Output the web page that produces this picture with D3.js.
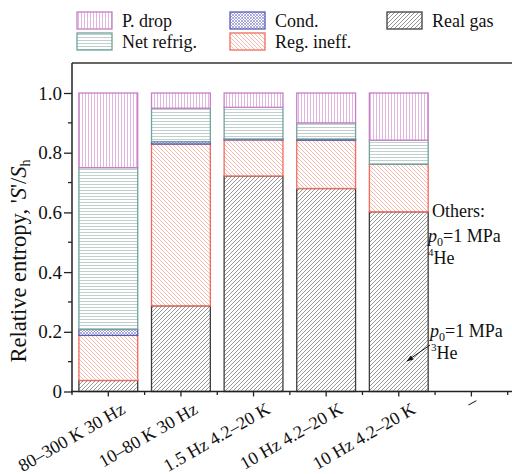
<!DOCTYPE html>
<html>
<head>
<meta charset="utf-8">
<script src="https://cdn.jsdelivr.net/npm/d3@7"></script>
</head>
<body style="margin:0">
<svg id="chart" width="512" height="474"></svg>
<script>
// Categories (operating cases) and stacked entropy shares, bottom to top
const categories = ["80\u2013300 K 30 Hz", "10\u201380 K 30 Hz", "1.5 Hz 4.2\u201320 K", "10 Hz 4.2\u201320 K", "10 Hz 4.2\u201320 K", "\u2013"];
const realGas   = [0.037, 0.287, 0.722, 0.680, 0.602];
const regIneff  = [0.151, 0.542, 0.121, 0.162, 0.159];
const cond      = [0.020, 0.008, 0.003, 0.004, 0.000];
const netRefrig = [0.542, 0.112, 0.106, 0.054, 0.081];
const pDrop     = [0.250, 0.051, 0.048, 0.100, 0.158];
const yTicks = [0, 0.2, 0.4, 0.6, 0.8, 1.0];
const yTickLabels = ["0", "0.2", "0.4", "0.6", "0.8", "1.0"];

const seriesValues = [realGas, regIneff, cond, netRefrig, pDrop];
const keys = ["realGas", "regIneff", "cond", "netRefrig", "pDrop"];

// Fill patterns and outline colours for each loss term
const styles = {
  realGas:   { stroke: "#3d3d3d", pattern: "pat-real" },
  regIneff:  { stroke: "#f26a5a", pattern: "pat-reg" },
  cond:      { stroke: "#5a5ab4", pattern: "pat-cond" },
  netRefrig: { stroke: "#6fa39c", pattern: "pat-net" },
  pDrop:     { stroke: "#c77fc7", pattern: "pat-pdrop" }
};

const FONT = "'Liberation Serif'";
const svg = d3.select("#chart");
const margin = { left: 72, top: 63, bottom: 391.5 };
const plotRight = 507.7;

const defs = svg.append("defs");
function linePattern(id, color, size, path, width) {
  const p = defs.append("pattern").attr("id", id)
    .attr("patternUnits", "userSpaceOnUse")
    .attr("width", size).attr("height", size);
  p.append("rect").attr("width", size).attr("height", size).attr("fill", "#fff");
  p.append("path").attr("d", path).attr("stroke", color)
    .attr("stroke-width", width).attr("fill", "none");
}
linePattern("pat-pdrop", "#dcaedc", 3, "M1.5,0V3", 0.9);
linePattern("pat-net", "#b8cbc7", 3, "M0,1.5H3", 0.9);
linePattern("pat-real", "#8c8c8c", 4, "M0,4L4,0M-1,1L1,-1M3,5L5,3", 0.9);
linePattern("pat-reg", "#f6b2a8", 4, "M0,0L4,4M-1,3L1,5M3,-1L5,1", 0.9);
linePattern("pat-cond", "#8a8ad0", 3, "M0,0L3,3M3,0L0,3", 0.7);

// Scales (band domain uses category index, since two labels repeat)
const idx = categories.map((c, i) => i);
const x = d3.scaleBand().domain(idx)
  .range([margin.left, plotRight]).paddingInner(0.19).paddingOuter(0.095);
const y = d3.scaleLinear().domain([0, 1]).range([margin.bottom, 93]);

// Stack data
const rows = realGas.map((v, i) => {
  const r = { i };
  keys.forEach((k, j) => r[k] = seriesValues[j][i]);
  return r;
});
const stacked = d3.stack().keys(keys)(rows);

const bars = svg.append("g");
stacked.forEach(layer => {
  const st = styles[layer.key];
  bars.append("g").selectAll("rect").data(layer).join("rect")
    .attr("x", d => x(d.data.i))
    .attr("width", x.bandwidth())
    .attr("y", d => y(d[1]))
    .attr("height", d => Math.max(0, y(d[0]) - y(d[1])))
    .attr("fill", `url(#${st.pattern})`)
    .attr("stroke", st.stroke)
    .attr("stroke-width", 1.3);
});

// Frame top line
svg.append("line").attr("x1", margin.left).attr("x2", 512)
  .attr("y1", margin.top).attr("y2", margin.top)
  .attr("stroke", "#333").attr("stroke-width", 1.5);

// Y axis
const yAxis = svg.append("g").attr("transform", `translate(${margin.left},0)`)
  .call(d3.axisLeft(y).tickValues(yTicks).tickSize(8).tickPadding(2)
    .tickFormat((d, i) => yTickLabels[i]));
yAxis.attr("font-family", null).attr("font-size", null);
yAxis.select(".domain").remove();
yAxis.append("line").attr("y1", margin.top).attr("y2", margin.bottom + 1)
  .attr("stroke", "#222").attr("stroke-width", 1.5);
yAxis.selectAll(".tick line").attr("stroke", "#222").attr("stroke-width", 1.3);
yAxis.selectAll(".tick text").attr("fill", "#111").style("font-size", "19px");
yAxis.selectAll(".minor").data([0.1, 0.3, 0.5, 0.7, 0.9]).join("line")
  .attr("x1", -4).attr("x2", 0).attr("y1", d => y(d)).attr("y2", d => y(d))
  .attr("stroke", "#222").attr("stroke-width", 1.3);

// X axis
const xAxis = svg.append("g").attr("transform", `translate(0,${margin.bottom})`)
  .call(d3.axisBottom(x).tickSize(5).tickFormat(""));
xAxis.select(".domain").remove();
xAxis.append("line").attr("x1", margin.left - 1).attr("x2", 512)
  .attr("stroke", "#222").attr("stroke-width", 1.5);
xAxis.selectAll(".tick line").attr("stroke", "#222").attr("stroke-width", 1.3);
const step = x.step();
const centre = i => x(i) + x.bandwidth() / 2;
const bounds = idx.map(i => centre(i) - step / 2).concat([centre(idx.length - 1) + step / 2]);
xAxis.selectAll(".minor").data(bounds).join("line")
  .attr("x1", d => d).attr("x2", d => d).attr("y1", 0).attr("y2", 3.5)
  .attr("stroke", "#222").attr("stroke-width", 1.3);

// Rotated category labels: long labels end at the tick, a lone dash sits on it
const isShort = d => d.length < 3;
svg.append("g").selectAll("text").data(categories).join("text")
  .attr("transform", (d, i) => isShort(d)
    ? `translate(${centre(i) + 3},${margin.bottom + 15}) rotate(-30)`
    : `translate(${centre(i) + 18},${margin.bottom + 21}) rotate(-30)`)
  .attr("text-anchor", d => isShort(d) ? "middle" : "end")
  .style("font-size", "18px").attr("fill", "#111")
  .text(d => d);

// Y axis title
const yt = svg.append("text")
  .attr("transform", "translate(26,261) rotate(-90)")
  .attr("text-anchor", "middle").style("font-size", "22.5px").attr("fill", "#111");
yt.append("tspan").text("Relative entropy, '");
yt.append("tspan").attr("font-style", "italic").text("S");
yt.append("tspan").text("'/");
yt.append("tspan").attr("font-style", "italic").text("S");
yt.append("tspan").style("font-size", "14px").attr("dy", 4).text("h");

// Legend
const legendItems = [
  { key: "pDrop", label: "P. drop", x: 77, y: 12 },
  { key: "netRefrig", label: "Net refrig.", x: 77, y: 33 },
  { key: "cond", label: "Cond.", x: 230, y: 12 },
  { key: "regIneff", label: "Reg. ineff.", x: 230, y: 33 },
  { key: "realGas", label: "Real gas", x: 387, y: 12 }
];
const lg = svg.append("g").selectAll("g").data(legendItems).join("g")
  .attr("transform", d => `translate(${d.x},${d.y})`);
lg.append("rect").attr("width", 35).attr("height", 17)
  .attr("fill", d => `url(#${styles[d.key].pattern})`)
  .attr("stroke", d => styles[d.key].stroke).attr("stroke-width", 1.3);
lg.append("text").attr("x", 45).attr("y", 15).style("font-size", "18px")
  .attr("fill", "#111").text(d => d.label);

// Annotations
const ann = svg.append("g").attr("fill", "#111");
function pLine(xp, yp) {
  const t = ann.append("text").attr("x", xp).attr("y", yp).style("font-size", "18px");
  t.append("tspan").attr("font-style", "italic").text("p");
  t.append("tspan").style("font-size", "12px").attr("dy", 4).text("0");
  t.append("tspan").attr("dy", -4).text("=1 MPa");
}
function heLine(xp, yp, sup) {
  const t = ann.append("text").attr("x", xp).attr("y", yp).style("font-size", "18px");
  t.append("tspan").style("font-size", "11px").attr("dy", -8).text(sup);
  t.append("tspan").attr("dy", 8).text("He");
}
ann.append("text").attr("x", 432).attr("y", 217).style("font-size", "18px").text("Others:");
pLine(428, 242);
heLine(428, 264, "4");
pLine(430, 337);
heLine(431, 359, "3");

defs.append("marker").attr("id", "arrow").attr("viewBox", "0 0 10 10")
  .attr("refX", 9).attr("refY", 5).attr("markerWidth", 7).attr("markerHeight", 7)
  .attr("orient", "auto")
  .append("path").attr("d", "M0,1.5L10,5L0,8.5Z").attr("fill", "#111");
svg.append("line").attr("x1", 430).attr("y1", 345).attr("x2", 407).attr("y2", 361)
  .attr("stroke", "#111").attr("stroke-width", 1).attr("marker-end", "url(#arrow)");

// Serif face for every label
svg.selectAll("text").style("font-family", FONT);
</script>
</body>
</html>
